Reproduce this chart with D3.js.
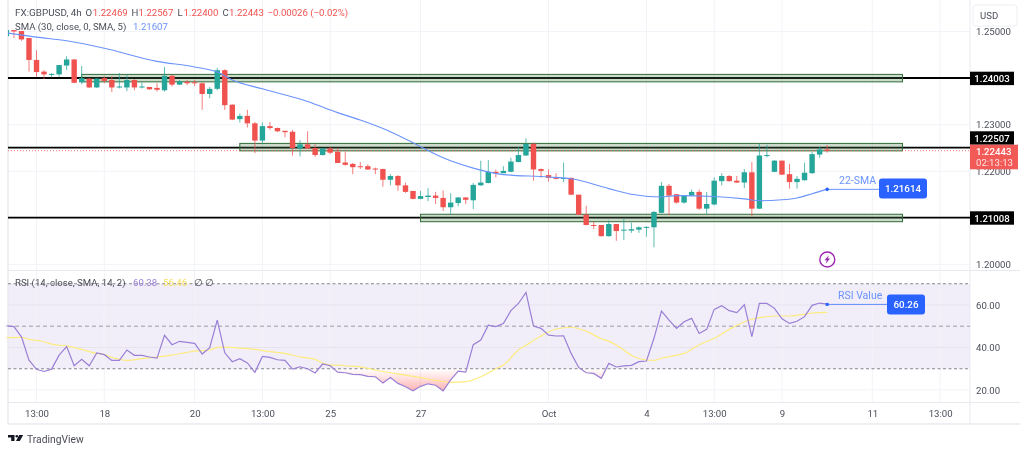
<!DOCTYPE html>
<html>
<head>
<meta charset="utf-8">
<script src="https://cdn.jsdelivr.net/npm/d3@7"></script>
<style>
  html, body { margin: 0; padding: 0; background: #fff; }
  svg { display: block; filter: blur(0.35px); }
  text { font-family: Roboto, sans-serif; }
</style>
</head>
<body>
<svg id="chart" width="1024" height="453"></svg>
<script>
// GBP/USD 4h candles
var opens = [1.2490,1.2503,1.2501,1.2486,1.2439,1.2414,1.2407,1.2408,1.2427,1.2440,
  1.2391,1.2399,1.2380,1.2400,1.2396,1.2380,1.2380,1.2396,1.2381,1.2381,
  1.2379,1.2374,1.2405,1.2386,1.2392,1.2391,1.2389,1.2366,1.2377,1.2417,
  1.2343,1.2312,1.2319,1.2303,1.2266,1.2297,1.2293,1.2287,1.2285,1.2249,
  1.2258,1.2250,1.2235,1.2249,1.2242,1.2219,1.2216,1.2211,1.2211,1.2206,
  1.2205,1.2182,1.2190,1.2170,1.2158,1.2141,1.2145,1.2148,1.2143,1.2123,
  1.2132,1.2144,1.2138,1.2170,1.2175,1.2199,1.2196,1.2199,1.2220,1.2234,
  1.2259,1.2205,1.2192,1.2186,1.2184,1.2186,1.2150,1.2107,1.2085,1.2085,
  1.2061,1.2087,1.2073,1.2073,1.2075,1.2079,1.2080,1.2111,1.2169,1.2151,
  1.2133,1.2148,1.2156,1.2120,1.2129,1.2179,1.2190,1.2180,1.2176,1.2198,
  1.2120,1.2233,1.2199,1.2223,1.2194,1.2177,1.2181,1.2196,1.2236,1.22469];
var highs = [1.2503,1.2503,1.2501,1.2486,1.2460,1.2417,1.2411,1.2428,1.2447,1.2441,
  1.2426,1.2400,1.2400,1.2404,1.2404,1.2411,1.2407,1.2398,1.2391,1.2381,
  1.2389,1.2424,1.2407,1.2396,1.2396,1.2396,1.2390,1.2381,1.2422,1.2419,
  1.2344,1.2324,1.2332,1.2306,1.2305,1.2306,1.2294,1.2287,1.2289,1.2267,
  1.2286,1.2258,1.2250,1.2253,1.2250,1.2242,1.2218,1.2220,1.2215,1.2208,
  1.2206,1.2194,1.2192,1.2176,1.2158,1.2158,1.2164,1.2156,1.2159,1.2153,
  1.2145,1.2145,1.2175,1.2223,1.2224,1.2204,1.2211,1.2229,1.2253,1.2271,
  1.2262,1.2206,1.2204,1.2196,1.2219,1.2187,1.2150,1.2126,1.2092,1.2085,
  1.2095,1.2087,1.2099,1.2090,1.2082,1.2082,1.2115,1.2177,1.2173,1.2151,
  1.2149,1.2161,1.2161,1.2156,1.2187,1.2196,1.2192,1.2190,1.2205,1.2220,
  1.2260,1.2257,1.2224,1.2223,1.2216,1.2190,1.2219,1.2242,1.2253,1.22567];
var lows = [1.2488,1.2486,1.2480,1.2414,1.2403,1.2398,1.2402,1.2403,1.2417,1.2389,
  1.2387,1.2379,1.2379,1.2389,1.2370,1.2378,1.2372,1.2374,1.2378,1.2375,
  1.2371,1.2371,1.2382,1.2385,1.2385,1.2383,1.2332,1.2357,1.2374,1.2332,
  1.2310,1.2305,1.2294,1.2239,1.2258,1.2289,1.2284,1.2273,1.2234,1.2232,
  1.2248,1.2231,1.2234,1.2237,1.2218,1.2212,1.2194,1.2205,1.2203,1.2194,
  1.2167,1.2170,1.2158,1.2154,1.2140,1.2140,1.2136,1.2130,1.2115,1.2109,
  1.2125,1.2130,1.2119,1.2169,1.2174,1.2187,1.2196,1.2198,1.2219,1.2233,
  1.2180,1.2186,1.2178,1.2183,1.2177,1.2149,1.2106,1.2084,1.2076,1.2060,
  1.2060,1.2051,1.2053,1.2068,1.2068,1.2060,1.2037,1.2110,1.2106,1.2131,
  1.2131,1.2147,1.2117,1.2109,1.2127,1.2170,1.2178,1.2175,1.2164,1.2104,
  1.2119,1.2230,1.2198,1.2192,1.2163,1.2163,1.2180,1.2195,1.2229,1.22400];
var closes = [1.2503,1.2500,1.2483,1.2439,1.2413,1.2408,1.2409,1.2428,1.2440,1.2390,
  1.2400,1.2380,1.2399,1.2394,1.2380,1.2382,1.2396,1.2380,1.2382,1.2376,
  1.2375,1.2405,1.2386,1.2393,1.2389,1.2389,1.2366,1.2377,1.2417,1.2342,
  1.2311,1.2319,1.2303,1.2266,1.2297,1.2293,1.2286,1.2284,1.2250,1.2258,
  1.2249,1.2235,1.2249,1.2240,1.2218,1.2214,1.2209,1.2209,1.2204,1.2205,
  1.2182,1.2190,1.2170,1.2156,1.2141,1.2147,1.2148,1.2143,1.2123,1.2133,
  1.2144,1.2139,1.2171,1.2176,1.2199,1.2196,1.2201,1.2221,1.2235,1.2259,
  1.2204,1.2201,1.2186,1.2185,1.2186,1.2150,1.2107,1.2085,1.2083,1.2061,
  1.2087,1.2072,1.2075,1.2076,1.2080,1.2081,1.2113,1.2169,1.2148,1.2133,
  1.2148,1.2156,1.2120,1.2130,1.2180,1.2190,1.2179,1.2176,1.2198,1.2120,
  1.2234,1.2235,1.2223,1.2193,1.2177,1.2184,1.2197,1.2237,1.2247,1.22443];

// moving average, read at these bars
var smaBars = [0,4,8,13,20,25,28,30,34,40,44,47,51,55,58,62,66,72,75,80,83,87,89,94,98,100,103,105,107,109];
var smaValues = [1.2497,1.2488,1.2480,1.2464,1.2436,1.2424,1.2413,1.2396,1.2377,1.2350,1.2326,1.2310,1.2285,1.2253,1.2229,1.2207,1.2193,1.2188,1.2184,1.2163,1.2151,1.2145,1.2148,1.2146,1.2141,1.2137,1.2139,1.2143,1.2152,1.2162];

var rsiValues = [50.2,49.8,45,34,29.7,28.7,29.8,36.4,40.4,31.4,
  34.4,31.4,37.4,36.6,33.9,33.9,38.8,36.3,36.3,35.5,
  35,45.7,41.3,42.9,42.4,41.9,36.9,39.9,52.9,37.5,
  33.3,34.7,32.7,28.3,35.8,35.3,34.2,33.9,29.8,30.9,
  30,28,32.2,31.4,28.4,28.1,27.3,27.2,26.4,26.2,
  23.3,25.9,23.1,21.5,19.6,21.7,22.9,22.2,19.6,24.7,
  28.9,28.4,41.3,43.5,50.5,49.8,51.3,57.3,60.7,65.9,
  50.1,49,45.8,45.4,45.5,37.2,30.6,28.1,27.8,25.5,
  32.5,30.8,31.3,31.6,33.3,33.6,44.3,57.1,52.9,49,
  52.1,53.7,46.6,48.5,57.9,59.6,57.3,56.4,60.1,45.1,
  60.7,60.7,58.4,53.5,51.3,52.3,54.5,59.8,60.9,60.38];

var rsiMaBars = [0,2,3,5,6,8,10,12,13,14,15,16,18,20,22,24,25,27,28,29,31,33,35,37,39,41,42,43,44,45,47,49,51,53,55,57,59,61,63,65,66,68,69,71,73,75,77,79,80,82,83,85,86,87,89,90,92,94,96,98,100,102,104,106,107,109];
var rsiMaValues = [44.6,44.7,43.8,42.7,41.6,40.7,39.1,37.2,36.7,35.3,34.4,33.9,34.7,35.5,36.4,37.7,38.3,38.8,40,40.2,39.7,39.1,38,37.2,35.6,34.4,32.7,31.7,31.7,31.4,30.9,29.4,28.1,27,25.8,24.5,23.6,23.9,26.2,30,31.7,38.8,41,45.4,48.7,49.5,47.7,44.1,43,38.8,36.3,34.1,33.9,34.9,36.4,37.2,41.3,44.3,48.5,52.1,54,54.8,54.8,55.6,56.2,56.46];

var timeTickBars = [4,13,25,34,43,55,72,85,94,103,115,124];
var timeTickLabels = ["13:00","18","20","13:00","25","27","Oct","4","13:00","9","11","13:00"];
var priceTicks = [1.25,1.24,1.23,1.22,1.21,1.20];
var rsiTicks = [60,40,20];

// support / resistance levels and the zones drawn around them
var levels = [1.24003,1.22507,1.21008];
var zoneStartBars = [10,31,55];
var zoneEndBar = 119;
var zoneTops = [1.2408,1.2260,1.2108];
var zoneBottoms = [1.2392,1.2244,1.2092];

var lastClose = 1.22443;
var countdown = "02:13:13";
var smaTag = 1.21614;
var rsiTag = 60.26;

var UP = "#26a69a", DOWN = "#f0524f", GRID = "#f2f3f8", BORDER = "#e8e9ef";
var TEXT = "#4c4f5a", BLUE = "#2962ff", SMA_BLUE = "#6a93fb";

var svg = d3.select("#chart");

var plot = { left: 8, right: 970 };
var xscale = d3.scaleLinear().domain([0, 124]).range([6.4, 940.1]);
var yprice = d3.scaleLinear().domain([1.20, 1.25]).range([264.6, 31.5]);
var yrsi = d3.scaleLinear().domain([30, 70]).range([368.7, 283.7]);

svg.append("clipPath").attr("id", "plotclip").append("rect")
  .attr("x", plot.left).attr("y", 0).attr("width", plot.right - plot.left).attr("height", 403);

function hline(y, x1, x2, color) {
  return svg.append("line").attr("x1", x1).attr("x2", x2).attr("y1", y).attr("y2", y)
    .attr("stroke", color).attr("stroke-width", 1);
}
function vline(x, y1, y2, color) {
  return svg.append("line").attr("x1", x).attr("x2", x).attr("y1", y1).attr("y2", y2)
    .attr("stroke", color).attr("stroke-width", 1);
}

// RSI band first so the grid sits over it
svg.append("rect")
  .attr("x", plot.left).attr("width", plot.right - plot.left)
  .attr("y", yrsi(70)).attr("height", yrsi(30) - yrsi(70))
  .attr("fill", "#7e57c2").attr("fill-opacity", 0.1);

// grid
timeTickBars.forEach(function (b) {
  vline(xscale(b), 0, 402, GRID);
});
priceTicks.forEach(function (p) {
  hline(yprice(p), plot.left, plot.right, GRID);
});
rsiTicks.forEach(function (r) {
  hline(yrsi(r), plot.left, plot.right, r == 20 ? GRID : "#e6e3ef");
});

// frame
vline(8, 0, 424, BORDER).attr("stroke-width", 1.5);
vline(plot.right, 0, 424, BORDER);
hline(270.5, 8, 1020, BORDER);
hline(402.5, 8, 1020, BORDER);
hline(424, 8, 1020, BORDER).attr("stroke-width", 1.5);

// level lines
levels.forEach(function (l) {
  hline(yprice(l), plot.left, plot.right, "#000").attr("stroke-width", 1.8);
});

// green zones
zoneTops.forEach(function (top, i) {
  svg.append("rect")
    .attr("x", xscale(zoneStartBars[i]))
    .attr("y", yprice(top))
    .attr("width", xscale(zoneEndBar) - xscale(zoneStartBars[i]))
    .attr("height", yprice(zoneBottoms[i]) - yprice(top))
    .attr("fill", "#4c7d4c").attr("fill-opacity", 0.28)
    .attr("stroke", "#2f6b35").attr("stroke-width", 1);
});

// last price line
hline(yprice(lastClose), plot.left, plot.right, "#f0524f")
  .attr("stroke-dasharray", "1 2").attr("stroke-opacity", 0.8);

// candles
var bars = d3.range(opens.length);
var candles = svg.append("g").attr("clip-path", "url(#plotclip)");
candles.selectAll(".wick").data(bars).enter().append("line")
  .attr("class", "wick")
  .attr("x1", function (d) { return xscale(d); })
  .attr("x2", function (d) { return xscale(d); })
  .attr("y1", function (d) { return yprice(highs[d]); })
  .attr("y2", function (d) { return yprice(lows[d]); })
  .attr("stroke", function (d) { return closes[d] >= opens[d] ? UP : DOWN; })
  .attr("stroke-opacity", 0.75)
  .attr("stroke-width", 1);
candles.selectAll(".body").data(bars).enter().append("rect")
  .attr("class", "body")
  .attr("x", function (d) { return xscale(d) - 2.7; })
  .attr("width", 5.4)
  .attr("y", function (d) { return yprice(Math.max(opens[d], closes[d])); })
  .attr("height", function (d) { return Math.max(1, Math.abs(yprice(opens[d]) - yprice(closes[d]))); })
  .attr("fill", function (d) { return closes[d] >= opens[d] ? UP : DOWN; });

// 30 SMA
var smaLine = d3.line()
  .x(function (d) { return xscale(d); })
  .y(function (d, i) { return yprice(smaValues[i]); })
  .curve(d3.curveMonotoneX);
candles.append("path")
  .attr("d", smaLine(smaBars))
  .attr("fill", "none").attr("stroke", SMA_BLUE).attr("stroke-width", 1.1);

// SMA annotation
var smaEnd = xscale(109);
hline(yprice(smaTag), smaEnd, 880, SMA_BLUE);
svg.append("circle").attr("cx", smaEnd).attr("cy", yprice(smaTag)).attr("r", 1.8).attr("fill", BLUE);
svg.append("text").attr("x", 839).attr("y", 183.5)
  .attr("font-size", 10.5).attr("fill", SMA_BLUE).text("22-SMA");
svg.append("rect").attr("x", 879).attr("y", 178.5).attr("width", 48).attr("height", 20).attr("rx", 3).attr("fill", BLUE);
svg.append("text").attr("x", 903).attr("y", 192).attr("text-anchor", "middle")
  .attr("font-size", 9.8).attr("font-weight", 500).attr("fill", "#fff").text(d3.format(".5f")(smaTag));

// alert icon
var icon = svg.append("g").attr("transform", "translate(827.3,259.5)");
icon.append("circle").attr("r", 7.5).attr("fill", "#fff").attr("stroke", "#9c27b0").attr("stroke-width", 1.4);
icon.append("path").attr("d", "M1.6,-4.2 L-2.8,0.8 L-0.5,0.8 L-1.6,4.2 L2.8,-0.9 L0.5,-0.9 Z").attr("fill", "#9c27b0");

// RSI pane
var rsiDash = [[70, "3 2.5", 1.1], [50, "4 3", 0.8], [30, "3 2.5", 1.1]];
rsiDash.forEach(function (row) {
  hline(yrsi(row[0]), plot.left, plot.right, "#85878f")
    .attr("stroke-dasharray", row[1]).attr("stroke-width", row[2]);
});

var grad = svg.append("linearGradient").attr("id", "oversold")
  .attr("gradientUnits", "userSpaceOnUse")
  .attr("x1", 0).attr("x2", 0).attr("y1", yrsi(30)).attr("y2", yrsi(20));
grad.append("stop").attr("offset", 0).attr("stop-color", "#ff5252").attr("stop-opacity", 0);
grad.append("stop").attr("offset", 1).attr("stop-color", "#ff5252").attr("stop-opacity", 0.42);

var oversold = d3.area()
  .x(function (d) { return xscale(d); })
  .y0(yrsi(30))
  .y1(function (d) { return yrsi(Math.min(rsiValues[d], 30)); });
svg.append("path").attr("d", oversold(bars)).attr("fill", "url(#oversold)");

var rsiMaLine = d3.line()
  .x(function (d) { return xscale(d); })
  .y(function (d, i) { return yrsi(rsiMaValues[i]); })
  .curve(d3.curveMonotoneX);
svg.append("path").attr("d", rsiMaLine(rsiMaBars))
  .attr("fill", "none").attr("stroke", "#fdeb7e").attr("stroke-width", 1.2);

var rsiLine = d3.line()
  .x(function (d) { return xscale(d); })
  .y(function (d) { return yrsi(rsiValues[d]); });
svg.append("path").attr("d", rsiLine(bars))
  .attr("fill", "none").attr("stroke", "#9a7fd6").attr("stroke-width", 1.2);

// RSI annotation
var rsiEnd = xscale(109);
hline(yrsi(rsiTag), rsiEnd, 888, "#5f8bfb");
svg.append("rect").attr("x", rsiEnd - 1.5).attr("y", yrsi(rsiTag) - 1.5).attr("width", 3).attr("height", 3).attr("fill", BLUE);
svg.append("text").attr("x", 838).attr("y", 299)
  .attr("font-size", 10.5).attr("fill", SMA_BLUE).text("RSI Value");
svg.append("rect").attr("x", 887).attr("y", 294.5).attr("width", 38).attr("height", 20).attr("rx", 3).attr("fill", BLUE);
svg.append("text").attr("x", 906).attr("y", 308).attr("text-anchor", "middle")
  .attr("font-size", 9.8).attr("font-weight", 500).attr("fill", "#fff").text(d3.format(".2f")(rsiTag));

// axes
var timeAxis = d3.axisBottom(xscale).tickValues(timeTickBars)
  .tickFormat(function (d, i) { return timeTickLabels[i]; }).tickSize(0).tickPadding(7);
svg.append("g").attr("class", "axis").attr("transform", "translate(0,403)").call(timeAxis);
var priceAxis = d3.axisRight(yprice).tickValues([1.25, 1.23, 1.22, 1.20])
  .tickFormat(d3.format(".5f")).tickSize(0).tickPadding(6);
svg.append("g").attr("class", "axis").attr("transform", "translate(" + plot.right + ",0)").call(priceAxis);
var rsiAxis = d3.axisRight(yrsi).tickValues(rsiTicks)
  .tickFormat(d3.format(".2f")).tickSize(0).tickPadding(6);
svg.append("g").attr("class", "axis").attr("transform", "translate(" + plot.right + ",0)").call(rsiAxis);
svg.selectAll(".axis .domain").remove();
svg.selectAll(".axis text").attr("font-family", "Roboto, sans-serif").attr("font-size", 9.6).attr("fill", TEXT);

// price scale tags
svg.append("rect").attr("x", 973).attr("y", 5).attr("width", 44).attr("height", 21).attr("rx", 3)
  .attr("fill", "#fff").attr("stroke", "#eceef2");
svg.append("text").attr("x", 980).attr("y", 19).attr("font-size", 9.6).attr("fill", TEXT).text("USD");

var levelTagTops = [71.7, 131.3, 211.3];
levels.forEach(function (l, i) {
  svg.append("rect").attr("x", 970).attr("y", levelTagTops[i]).attr("width", 44).attr("height", 13.4).attr("fill", "#000");
  svg.append("text").attr("x", 992).attr("y", levelTagTops[i] + 10.2).attr("text-anchor", "middle")
    .attr("font-size", 9.6).attr("font-weight", 500).attr("fill", "#fff").text(d3.format(".5f")(l));
});
svg.append("rect").attr("x", 970).attr("y", 144.7).attr("width", 48).attr("height", 24.6).attr("fill", "#f25a58");
svg.append("text").attr("x", 976).attr("y", 155).attr("font-size", 9.6).attr("font-weight", 500).attr("fill", "#fff").text(d3.format(".5f")(lastClose));
svg.append("text").attr("x", 976).attr("y", 165.5).attr("font-size", 9.6).attr("fill", "#fde3e2").text(countdown);

// legend
function legend(x, y, color, str) {
  return svg.append("text").attr("x", x).attr("y", y).attr("font-size", 9.6).attr("fill", color).text(str);
}
legend(15, 16, TEXT, "FX:GBPUSD, 4h").attr("font-size", 9.9);
legend(85.5, 16, TEXT, "O");
legend(92.8, 16, DOWN, "1.22469");
legend(131.5, 16, TEXT, "H");
legend(138.5, 16, DOWN, "1.22567");
legend(177.5, 16, TEXT, "L");
legend(183.5, 16, DOWN, "1.22400");
legend(222.5, 16, TEXT, "C");
legend(229, 16, DOWN, "1.22443");
legend(267.5, 16, DOWN, "\u22120.00026 (\u22120.02%)");
legend(15, 30, TEXT, "SMA (30, close, 0, SMA, 5)");
legend(133, 30, SMA_BLUE, "1.21607");

legend(15, 286, TEXT, "RSI (14, close, SMA, 14, 2)");
legend(133, 286, "#9a7fd6", "60.38");
legend(163, 286, "#f7dd5a", "56.46");
legend(194, 286, TEXT, "\u2205");
legend(205, 286, TEXT, "\u2205");

// logo
var logo = svg.append("g").attr("transform", "translate(8,435)").attr("fill", "#131722");
logo.append("path").attr("d", "M0,0 H6.5 V6 H3.2 V2.4 H0 Z");
logo.append("circle").attr("cx", 8.8).attr("cy", 1.3).attr("r", 1.3);
logo.append("path").attr("d", "M11.2,0 H15.2 L11.8,6 H8 Z");
svg.append("text").attr("x", 27).attr("y", 443).attr("font-size", 10.3).attr("fill", "#4a4d58").text("TradingView");
</script>
</body>
</html>
